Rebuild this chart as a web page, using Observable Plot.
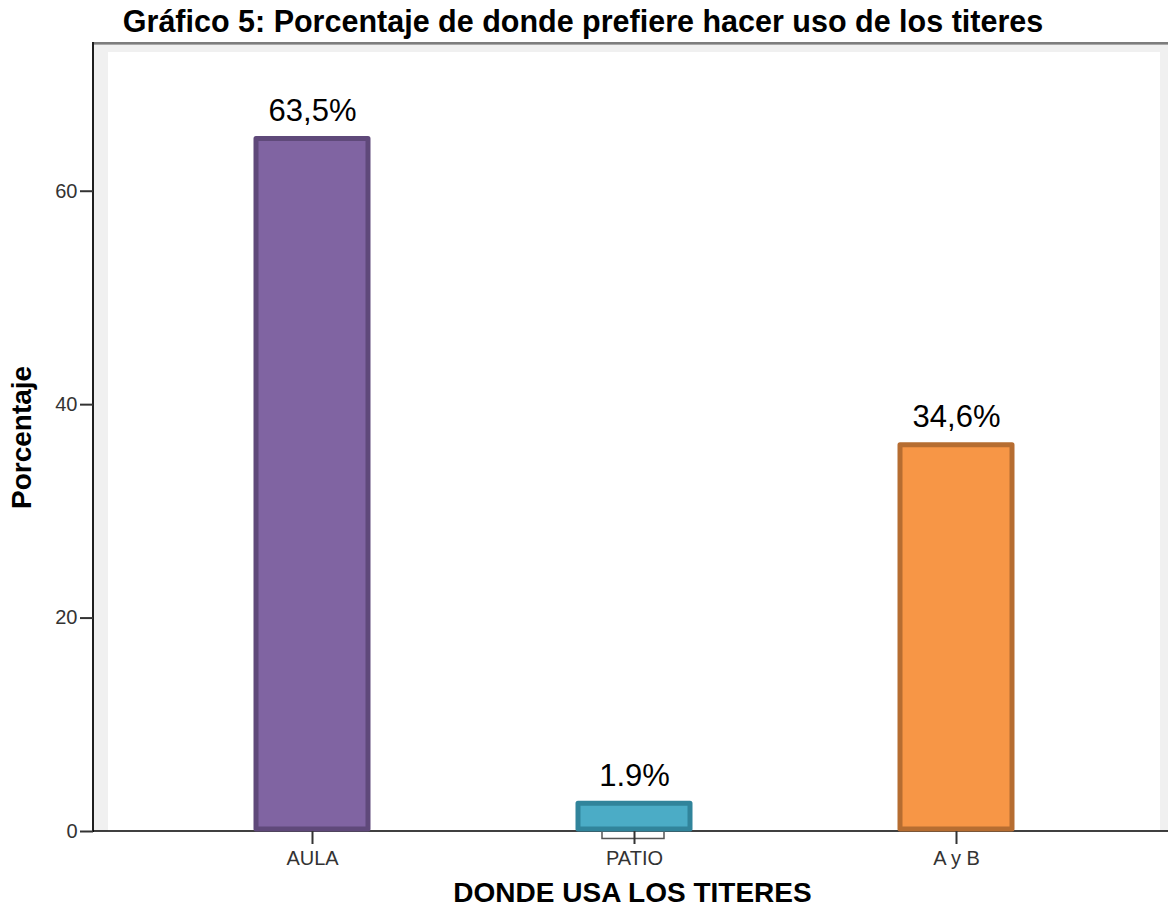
<!DOCTYPE html>
<html><head><meta charset="utf-8">
<script src="https://cdn.jsdelivr.net/npm/d3@7"></script>
<script src="https://cdn.jsdelivr.net/npm/@observablehq/plot@0.6"></script>
<style>
body{margin:0;background:#fff;}
#title{font-family:"Liberation Sans",Arial,sans-serif;font-weight:bold;font-size:30.5px;line-height:42px;height:42px;text-align:center;color:#000;white-space:nowrap;width:1166px;}
#chart svg{display:block;}
</style></head><body>
<div id="title">Gráfico 5: Porcentaje de donde prefiere hacer uso de los titeres</div>
<div id="chart"></div>
<script>
const categories = ["AULA", "PATIO", "A y B"];
const values = [64.9, 2.6, 36.2];
const valueLabels = ["63,5%", "1.9%", "34,6%"];
const fills = ["#8064a2", "#4bacc6", "#f79646"];
const strokes = ["#5f497a", "#31849b", "#b66d31"];
const yTicks = [0, 20, 40, 60];
const xTitle = "DONDE USA LOS TITERES";
const yTitle = "Porcentaje";
const bracketCats = ["PATIO"];
const bracketLow = [-0.7];

const W = 1168, H = 877, ML = 108, MR = 8, MT = 10, MB = 88;
const font = '"Liberation Sans", Arial, sans-serif';
const data = categories.map((c, i) => ({cat: c, value: values[i], label: valueLabels[i], fill: fills[i], stroke: strokes[i]}));
const bracket = bracketCats.map((c, i) => ({cat: c, low: bracketLow[i]}));

function decor() {
  const g = d3.create("svg:g");
  const y0 = H - MB;
  g.append("rect").attr("x", 94).attr("y", 2).attr("width", W - 94).attr("height", y0 - 2).attr("fill", "#f0f0f0");
  g.append("rect").attr("x", ML).attr("y", MT).attr("width", W - ML - MR).attr("height", y0 - MT).attr("fill", "#ffffff");
  g.append("line").attr("x1", 93).attr("x2", W).attr("y1", 1).attr("y2", 1).attr("stroke", "#7d7d7d").attr("stroke-width", 2);
  g.append("line").attr("x1", 93).attr("x2", W).attr("y1", 2.5).attr("y2", 2.5).attr("stroke", "#a8a8a8").attr("stroke-width", 1);
  g.append("line").attr("x1", 93).attr("x2", 93).attr("y1", 0).attr("y2", y0 + 1).attr("stroke", "#1e1e1e").attr("stroke-width", 2);
  g.append("line").attr("x1", 93).attr("x2", W).attr("y1", y0).attr("y2", y0).attr("stroke", "#000").attr("stroke-width", 1.6);
  return g.node();
}

const plot = Plot.plot({
  width: W, height: H,
  marginLeft: ML, marginRight: MR, marginTop: MT, marginBottom: MB,
  style: {fontFamily: font, background: "#fff", overflow: "visible"},
  x: {domain: categories, paddingInner: 0.652, paddingOuter: 0.456, label: null},
  y: {domain: [0, 73], label: null},
  color: {type: "identity"},
  marks: [
    decor,
    Plot.barY(bracket, {x: "cat", y1: 0, y2: "low", fill: "none", stroke: "#555", strokeWidth: 1.5, insetLeft: 24, insetRight: 26}),
    Plot.barY(data, {x: "cat", y: "value", fill: "fill", stroke: "stroke", strokeWidth: 5, strokeLinejoin: "round", insetBottom: 2}),
    Plot.text(data, {x: "cat", y: "value", text: "label", lineAnchor: "bottom", dy: -18, fontSize: 31, fill: "#000"}),
    Plot.axisY({ticks: yTicks, tickSize: 13, tickPadding: 3, dx: -15, fontSize: 20, color: "#333", strokeWidth: 2, label: null}),
    Plot.axisX({tickSize: 13, tickPadding: 6, fontSize: 20, color: "#333", strokeWidth: 2, label: null}),
    Plot.text([xTitle], {frameAnchor: "bottom", dx: -2, dy: 70, fontSize: 28, fontWeight: "bold", fill: "#000"}),
    Plot.text([yTitle], {frameAnchor: "left", dx: -86, dy: 67, rotate: -90, fontSize: 28, fontWeight: "bold", fill: "#000"})
  ]
});
document.getElementById("chart").appendChild(plot);
</script>
</body></html>
